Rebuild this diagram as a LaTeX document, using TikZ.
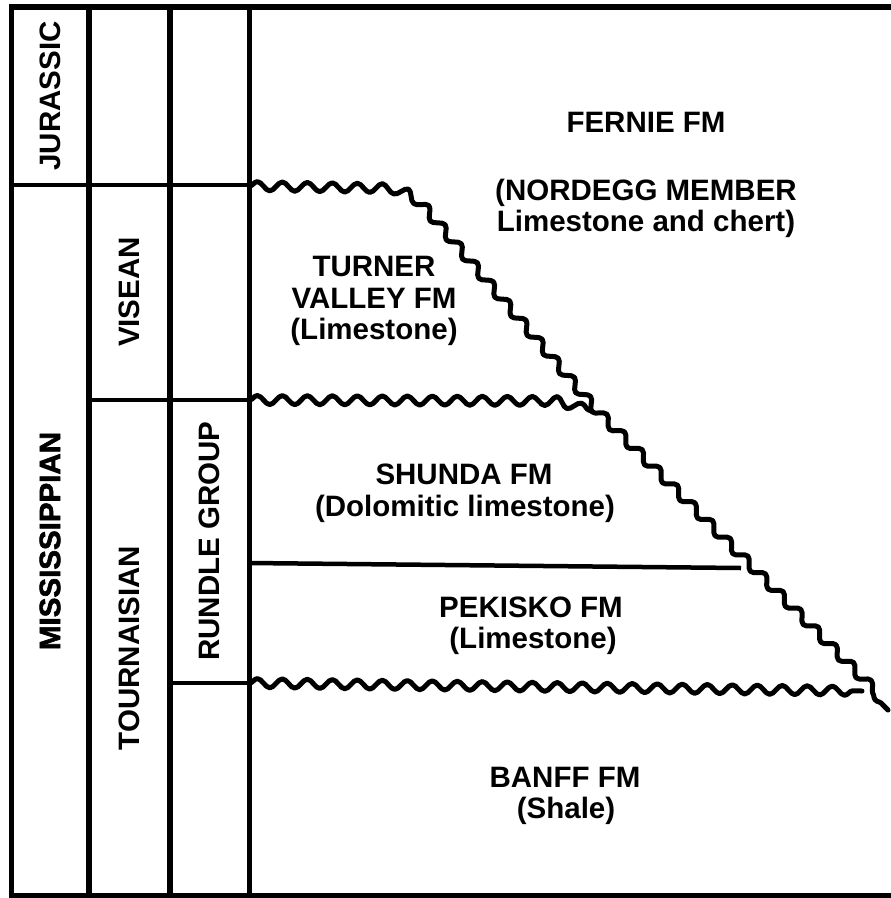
\documentclass[tikz,border=0pt]{standalone}
\usepackage{fontspec}
\setmainfont{Liberation Sans}
\newfontfamily\heavyfont[FakeBold=2]{Liberation Sans Bold}
\usetikzlibrary{decorations.pathmorphing}
\begin{document}
\begin{tikzpicture}[x=1pt,y=-1pt,
  frame/.style={line width=5.5pt},
  hline/.style={line width=4.5pt},
  wave/.style={line width=5pt, line join=round, line cap=round, decorate,
    decoration={snake, segment length=25pt, amplitude=4.5pt}},
  lbl/.style={font=\bfseries\fontsize{29.5}{32}\selectfont, inner sep=0pt, anchor=base},
  vlbl/.style={font=\bfseries\fontsize{29.5}{32}\selectfont, inner sep=0pt, rotate=90}]
\useasboundingbox (0,0) rectangle (891,898);
\clip (0,0) rectangle (891,898);
% frame corners and column tops/bottoms
\coordinate (tL) at (11.5,4);   \coordinate (bL) at (11.5,898);
\coordinate (t1) at (89,4);     \coordinate (b1) at (89,898);
\coordinate (t2) at (170,4);    \coordinate (b2) at (170,898);
\coordinate (t3) at (249.5,4);  \coordinate (b3) at (249.5,898);
\coordinate (topL) at (8.5,7);  \coordinate (topR) at (895,7);
\coordinate (botL) at (8.5,895.5); \coordinate (botR) at (895,895.5);
\draw[frame] (topL) -- (topR);
\draw[frame] (botL) -- (botR);
\draw[frame] (tL) -- (bL);
\draw[frame] (t1) -- (b1);
\draw[frame] (t2) -- (b2);
\draw[frame] (t3) -- (b3);
% horizontal boundaries in columns
\coordinate (jurL) at (11.5,185); \coordinate (jurR) at (249.5,185);
\coordinate (visL) at (89,400);   \coordinate (visR) at (249.5,400);
\coordinate (runL) at (170,683);  \coordinate (runR) at (249.5,683);
\draw[hline] (jurL) -- (jurR);
\draw[hline] (visL) -- (visR);
\draw[hline] (runL) -- (runR);
% Shunda / Pekisko contact
\coordinate (spL) at (249.5,563); \coordinate (spR) at (741,568);
\draw[hline] (spL) -- (spR);
% unconformities
\coordinate (w1a) at (249.5,186);
\coordinate (w1b) at (374,188);
\coordinate (w1c) at (418,207);
\coordinate (w1d) at (590,410);
\coordinate (w1e) at (888,710);
\draw[wave] (w1a) -- (w1b) .. controls (396,189) and (404,193) .. (w1c) -- (w1d) -- (w1e);
\coordinate (w2a) at (249.5,400);
\coordinate (w2b) at (556,401);
\coordinate (w2c) at (592,411);
\draw[wave] (w2a) -- (w2b) -- (w2c);
\coordinate (w3a) at (249.5,683);
\coordinate (w3b) at (862,691);
\draw[wave] (w3a) -- (w3b);
% vertical labels
\node[vlbl] (jur) at (50,96) {JURASSIC};
\node[vlbl, font=\heavyfont\fontsize{29.5}{32}\selectfont] (mis) at (50,541) {MISSISSIPPIAN};
\node[vlbl] (vis) at (129.5,292) {VISEAN};
\node[vlbl] (tou) at (129.5,648) {TOURNAISIAN};
\node[vlbl] (run) at (209.5,541) {RUNDLE GROUP};
% formation labels
\node[lbl] (fer1) at (646,132) {FERNIE FM};
\node[lbl] (fer2) at (646,200) {(NORDEGG MEMBER};
\node[lbl] (fer3) at (646,231) {Limestone and chert)};
\node[lbl] (tur1) at (374,276) {TURNER};
\node[lbl] (tur2) at (374,308) {VALLEY FM};
\node[lbl] (tur3) at (374,339) {(Limestone)};
\node[lbl] (shu1) at (464,484) {SHUNDA FM};
\node[lbl] (shu2) at (465,516) {(Dolomitic limestone)};
\node[lbl] (pek1) at (531,617) {PEKISKO FM};
\node[lbl] (pek2) at (533,648) {(Limestone)};
\node[lbl] (ban1) at (565,787) {BANFF FM};
\node[lbl] (ban2) at (566,818) {(Shale)};
\end{tikzpicture}
\end{document}
